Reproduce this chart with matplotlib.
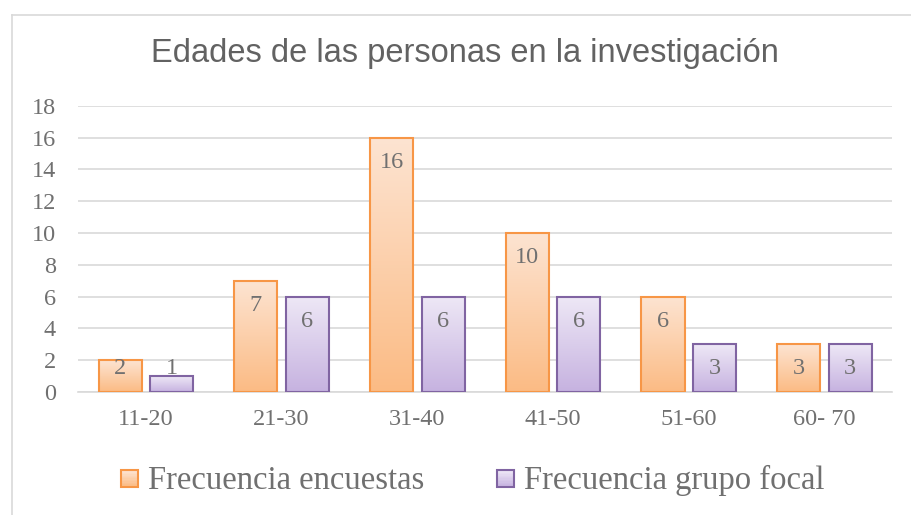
import numpy as np
import matplotlib
matplotlib.use("Agg")
import matplotlib.pyplot as plt
from matplotlib.colors import LinearSegmentedColormap
from matplotlib.lines import Line2D
from matplotlib.patches import Rectangle
from matplotlib.legend_handler import HandlerBase

categories = ["11-20", "21-30", "31-40", "41-50", "51-60", "60- 70"]
encuestas = [2, 7, 16, 10, 6, 3]
grupo_focal = [1, 6, 6, 6, 3, 3]
series_names = ["Frecuencia encuestas", "Frecuencia grupo focal"]

orange_edge = "#F79646"
purple_edge = "#8064A2"
orange_grad = LinearSegmentedColormap.from_list("og", ["#FBBB84", "#FDE4D2"])
purple_grad = LinearSegmentedColormap.from_list("pg", ["#C6B2E0", "#EEE8F6"])
text_gray = "#707070"
title_gray = "#626262"
grid_gray = "#D9D9D9"
serif = ["Liberation Serif", "DejaVu Serif"]

grad = np.linspace(0, 1, 256).reshape(-1, 1)


def gradient_bars(ax, bars, cmap):
    for b in bars:
        x, y = b.get_x(), b.get_y()
        w, h = b.get_width(), b.get_height()
        im = ax.imshow(grad, cmap=cmap, origin="lower", aspect="auto",
                       extent=[x, x + w, y, y + h], zorder=2)
        im.set_clip_path(b)


class GradHandler(HandlerBase):
    def __init__(self, cmap, edge):
        super().__init__()
        self.cmap = cmap
        self.edge = edge

    def create_artists(self, legend, orig_handle, xdescent, ydescent,
                       width, height, fontsize, trans):
        s = height * 0.75
        x0 = xdescent + width - s
        y0 = ydescent + (height - s) / 2 - 1
        arts = []
        n = 12
        for i in range(n):
            r = Rectangle((x0, y0 + s * i / n), s, s / n + 0.3,
                          facecolor=self.cmap(i / (n - 1)), edgecolor="none",
                          transform=trans)
            arts.append(r)
        arts.append(Rectangle((x0, y0), s, s, facecolor="none",
                              edgecolor=self.edge, lw=1.5, transform=trans))
        return arts


fig = plt.figure(figsize=(9.12, 5.15), dpi=100)
ax = fig.add_axes([0.0855, 0.2388, 0.893, 0.5558])

x = np.arange(len(categories))
w = 0.317
off = 0.19

b1 = ax.bar(x - off, encuestas, w, facecolor="none", edgecolor=orange_edge,
            lw=1.5, zorder=3)
b2 = ax.bar(x + off, grupo_focal, w, facecolor="none", edgecolor=purple_edge,
            lw=1.5, zorder=3)
gradient_bars(ax, b1, orange_grad)
gradient_bars(ax, b2, purple_grad)

# labels sit inside the top of the bar, but never lower than near the base
for xs, vals in [(x - off, encuestas), (x + off, grupo_focal)]:
    for xi, v in zip(xs, vals):
        ax.text(xi, max(v - 1.55, 1.5), str(v), ha="center", va="center",
                fontsize=17.5, color=text_gray, family=serif, zorder=4)

ax.set_xlim(-0.5, len(categories) - 0.5)
ax.set_ylim(0, 18)
ax.set_yticks(range(0, 19, 2))
ax.set_xticks(x)
ax.set_xticklabels(categories)
ax.yaxis.grid(True, color=grid_gray, lw=1.2, zorder=0)
ax.set_axisbelow(True)
for s in ["top", "right", "left"]:
    ax.spines[s].set_visible(False)
ax.spines["bottom"].set_color(grid_gray)
ax.spines["bottom"].set_linewidth(1.2)
ax.tick_params(length=0, colors=text_gray, labelsize=17.5)
ax.tick_params(axis="x", pad=12)
ax.tick_params(axis="y", pad=16)
for lab in ax.get_xticklabels() + ax.get_yticklabels():
    lab.set_family(serif)

fig.text(0.51, 0.897, "Edades de las personas en la investigación",
         ha="center", va="center", fontsize=23.5, color=title_gray,
         family=["Liberation Sans", "DejaVu Sans"])

h1 = Rectangle((0, 0), 1, 1)
h2 = Rectangle((0, 0), 1, 1)
leg = fig.legend([h1, h2], series_names, loc="center", ncol=2,
                 bbox_to_anchor=(0.518, 0.068), frameon=False,
                 prop={"family": serif, "size": 23.5},
                 handler_map={h1: GradHandler(orange_grad, orange_edge),
                              h2: GradHandler(purple_grad, purple_edge)},
                 handlelength=0.55, handletextpad=0.3, columnspacing=2.2)
for t in leg.get_texts():
    t.set_color(text_gray)

fig.add_artist(Line2D([12 / 912, 1], [1 - 15 / 515] * 2, color=grid_gray,
                      lw=1.2, transform=fig.transFigure))
fig.add_artist(Line2D([12 / 912] * 2, [0, 1 - 15 / 515], color=grid_gray,
                      lw=1.2, transform=fig.transFigure))

fig.savefig("out.png", dpi=100)
